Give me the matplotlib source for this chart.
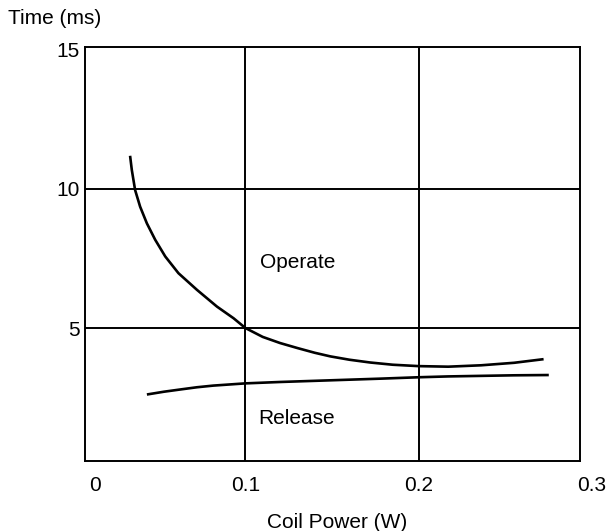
import matplotlib
matplotlib.use('Agg')
import matplotlib.pyplot as plt

plt.rcParams['font.family'] = ['Liberation Sans', 'DejaVu Sans']

# Operate curve (coil power in W, time in ms)
operate_x = [0.0335, 0.0345, 0.0364, 0.0393, 0.0432, 0.0480, 0.0538, 0.0614,
             0.0721, 0.0836, 0.0932, 0.100, 0.110, 0.120, 0.130, 0.140,
             0.149, 0.160, 0.172, 0.185, 0.200, 0.217, 0.236, 0.255, 0.272]
operate_y = [11.19, 10.68, 9.96, 9.36, 8.76, 8.17, 7.57, 6.97,
             6.37, 5.77, 5.35, 5.00, 4.68, 4.46, 4.28, 4.11,
             3.98, 3.86, 3.76, 3.68, 3.63, 3.61, 3.66, 3.75, 3.88]

# Release curve
release_x = [0.0432, 0.0530, 0.0624, 0.0720, 0.0815, 0.100, 0.120, 0.149,
             0.178, 0.200, 0.217, 0.236, 0.255, 0.275]
release_y = [2.61, 2.71, 2.79, 2.87, 2.93, 3.01, 3.06, 3.12,
             3.18, 3.23, 3.26, 3.28, 3.30, 3.31]

x_grid = [0.1, 0.2]
y_grid = [5, 10]
x_tick_pos = [0.0133, 0.1, 0.2, 0.300]
x_tick_labels = ['0', '0.1', '0.2', '0.3']
y_ticks = [5, 10, 15]
y_tick_labels = ['5', '10', '15']

fs = 15

fig = plt.figure(figsize=(6.08, 5.31), dpi=100)
ax = fig.add_axes([85/608, 1-461/531, 495/608, 414/531])

ax.set_xlim(0.0075, 0.293)
ax.set_ylim(0.22, 15.1)

for gx in x_grid:
    ax.axvline(gx, color='black', lw=1.4)
for gy in y_grid:
    ax.axhline(gy, color='black', lw=1.4)

ax.plot(operate_x, operate_y, color='black', lw=1.9, solid_capstyle='butt')
ax.plot(release_x, release_y, color='black', lw=1.9, solid_capstyle='butt')

ax.text(0.1087, 7.34, 'Operate', fontsize=fs, va='center', ha='left')
ax.text(0.1075, 1.76, 'Release', fontsize=fs, va='center', ha='left')

for s in ax.spines.values():
    s.set_linewidth(1.4)

ax.set_xticks([])
for xp, lab in zip(x_tick_pos, x_tick_labels):
    ax.text(xp, -0.058, lab, transform=ax.get_xaxis_transform(),
            ha='center', va='center', fontsize=fs, clip_on=False)

ax.set_yticks(y_ticks)
ax.set_yticklabels(y_tick_labels, fontsize=fs)
ax.tick_params(axis='y', length=0, pad=4)

fig.text(8/608, 1-19/531, 'Time (ms)', fontsize=fs, ha='left', va='center')
fig.text(337/608, 1-523/531, 'Coil Power (W)', fontsize=fs, ha='center', va='center')

fig.savefig('out.png', dpi=100)
